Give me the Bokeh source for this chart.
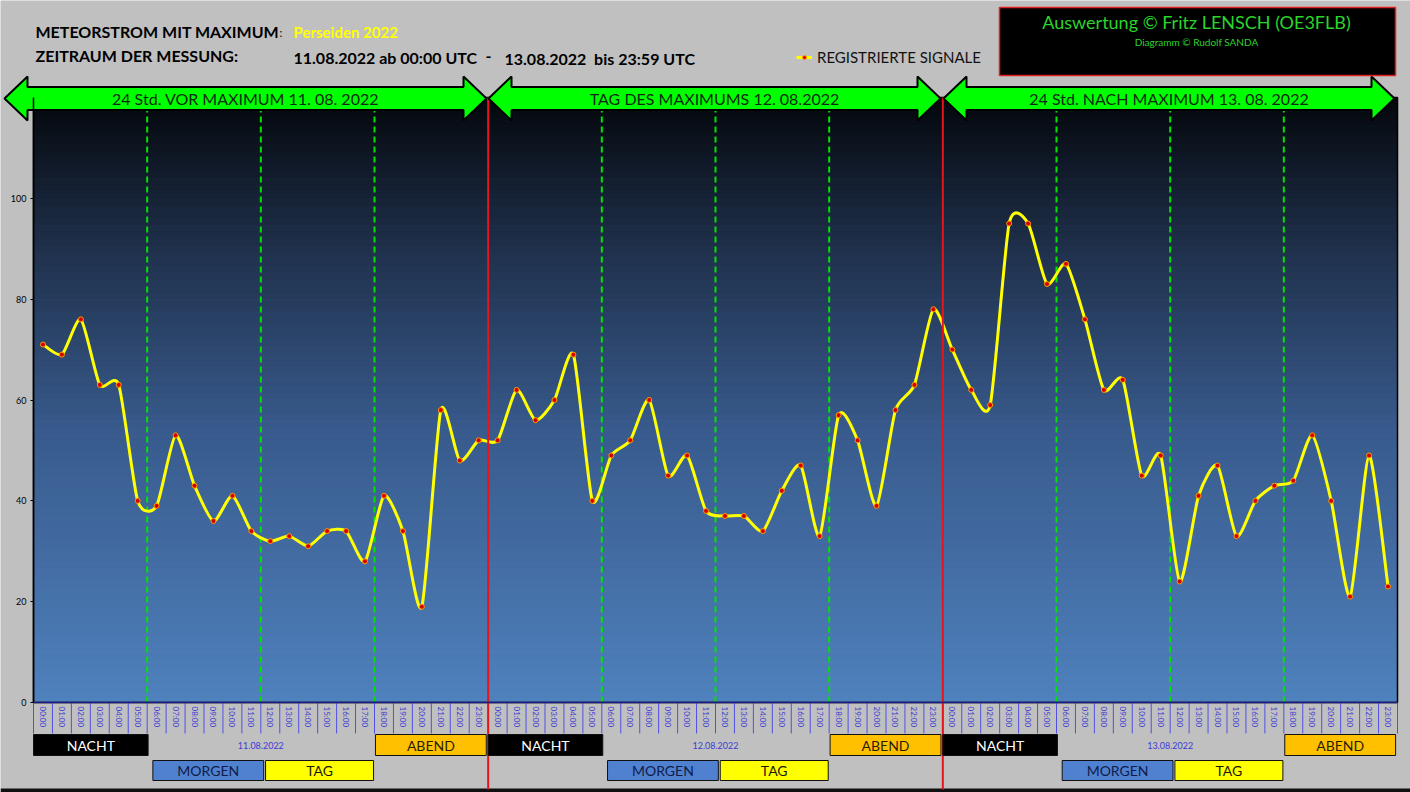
import numpy as np
from bokeh.plotting import figure
from bokeh.models import Range1d, FixedTicker, Legend, LegendItem
from bokeh.core.properties import value
from bokeh.embed import file_html
from bokeh.resources import INLINE

# ---------------- data ----------------
hours = [f"{h:02d}:00" for h in range(24)]
days = ["11.08.2022", "12.08.2022", "13.08.2022"]
signals_day1 = [71, 69, 76, 63, 63, 40, 39, 53, 43, 36, 41, 34, 32, 33, 31, 34, 34, 28, 41, 34, 19, 58, 48, 52]
signals_day2 = [52, 62, 56, 60, 69, 40, 49, 52, 60, 45, 49, 38, 37, 37, 34, 42, 47, 33, 57, 52, 39, 58, 63, 78]
signals_day3 = [70, 62, 59, 95, 95, 83, 87, 76, 62, 64, 45, 49, 24, 41, 47, 33, 40, 43, 44, 53, 40, 21, 49, 23]
y_ticks = [0, 20, 40, 60, 80, 100]
arrow_texts = ["24 Std. VOR MAXIMUM 11. 08. 2022", "TAG DES MAXIMUMS 12. 08.2022",
               "24 Std. NACH MAXIMUM 13. 08. 2022"]
period_names = ["NACHT", "MORGEN", "TAG", "ABEND"]
period_start = [-0.5, 5.8, 11.75, 17.55]
period_end = [5.55, 11.65, 17.45, 23.4]
period_row = [0, 1, 1, 0]
period_fill = ["#000000", "#4f81d0", "#ffff00", "#ffc000"]
period_text = ["#ffffff", "#101c48", "#1a1a00", "#2a1e00"]

signals = signals_day1 + signals_day2 + signals_day3
n = len(signals)
xs = list(range(n))

FONT = "Lato"
W, H = 1410, 792
# plot area inside the canvas (px): left, right, top, bottom
AL, AR, AT, AB = 33, 1397, 97, 702
YMAX = 120
kx = (AR - AL) / n          # px per hour
ky = (AB - AT) / YMAX       # px per signal unit
x_start = -0.5 - AL / kx
x_end = n - 0.5 + (W - AR) / kx
y_start = -(H - AB) / ky
y_end = YMAX + AT / ky

p = figure(width=W, height=H, min_border=0, x_range=Range1d(x_start, x_end),
           y_range=Range1d(y_start, y_end), output_backend="svg", toolbar_location=None)
p.background_fill_color = "#c0c0c0"
p.border_fill_color = "#c0c0c0"
p.outline_line_color = None
p.xgrid.visible = False
p.ygrid.visible = False

# helpers: picture pixel -> data coordinates (for decorations only)
def px2x(X):
    return (X - AL) / kx - 0.5

def px2y(Y):
    return (AB - Y) / ky

# bottom dark frame strip
p.quad(left=x_start, right=x_end, top=px2y(788), bottom=y_start, fill_color="#101010",
       line_alpha=0)

# --------- gradient background of the plot area ---------
stops = [(0.0, (4, 7, 12)), (0.25, (31, 48, 75)), (0.55, (56, 90, 140)), (1.0, (79, 129, 189))]
def grad(t):
    for (t0, c0), (t1, c1) in zip(stops[:-1], stops[1:]):
        if t <= t1:
            f = (t - t0) / (t1 - t0)
            return "#%02x%02x%02x" % tuple(int(round(a + (b - a) * f)) for a, b in zip(c0, c1))
    return "#%02x%02x%02x" % stops[-1][1]

NS = 90
edges = np.linspace(YMAX, 0, NS + 1)
gcols = [grad((i + 0.5) / NS) for i in range(NS)]
p.quad(left=-0.5, right=n - 0.5, top=edges[:-1], bottom=edges[1:],
       fill_color=gcols, line_color=gcols, line_width=1)

# green dashed separators of day periods
sep = [d * 24 + h for d in range(3) for h in (5.5, 11.5, 17.5)]
p.segment(x0=sep, y0=0, x1=sep, y1=YMAX, line_color="#00e400", line_width=2, line_dash="6 4")

# border of plot area
p.quad(left=-0.5, right=n - 0.5, bottom=0, top=YMAX, fill_alpha=0,
       line_color="black", line_width=1.5)

# category separators below the axis
cat_edges = [i - 0.5 for i in range(n + 1)]
p.segment(x0=cat_edges, y0=0, x1=cat_edges, y1=px2y(733), line_color="#5050e6", line_width=1)

# --------- smoothed curve (Bezier through data points) ---------
TENSION = 1 / 9
pts = list(zip(xs, signals))
x0s, y0s, x1s, y1s, cx0, cy0, cx1, cy1 = [], [], [], [], [], [], [], []
for i in range(n - 1):
    P0 = pts[i - 1] if i > 0 else pts[i]
    P1, P2 = pts[i], pts[i + 1]
    P3 = pts[i + 2] if i + 2 < n else pts[i + 1]
    x0s.append(P1[0]); y0s.append(P1[1]); x1s.append(P2[0]); y1s.append(P2[1])
    cx0.append(P1[0] + (P2[0] - P0[0]) * TENSION); cy0.append(P1[1] + (P2[1] - P0[1]) * TENSION)
    cx1.append(P2[0] - (P3[0] - P1[0]) * TENSION); cy1.append(P2[1] - (P3[1] - P1[1]) * TENSION)
curve = p.bezier(x0=x0s, y0=y0s, x1=x1s, y1=y1s, cx0=cx0, cy0=cy0, cx1=cx1, cy1=cy1,
                 line_color="#ffff00", line_width=3)
dots = p.scatter(xs, signals, marker="circle", size=5, fill_color="#d40000",
                 line_color="#ff9a00", line_width=1)

# --------- axes (drawn at fixed data locations) ---------
xa = p.xaxis[0]
xa.fixed_location = 0
xa.bounds = (-0.5, n - 0.5)
xa.ticker = FixedTicker(ticks=xs, minor_ticks=[])
xa.major_label_overrides = {i: hours[i % 24] for i in xs}
xa.major_label_orientation = "vertical"
xa.major_label_text_font = FONT
xa.major_label_text_font_size = "8px"
xa.major_label_text_color = "#3c3cd6"
xa.major_label_standoff = 4
xa.major_tick_out = 0
xa.major_tick_in = 0
xa.major_tick_line_color = None
xa.minor_tick_out = 0
xa.minor_tick_in = 0
xa.minor_tick_line_color = None
xa.axis_line_color = "#1c1c80"
xa.axis_line_width = 1.5

ya = p.yaxis[0]
ya.fixed_location = -0.5
ya.bounds = (0, YMAX)
ya.ticker = FixedTicker(ticks=y_ticks, minor_ticks=[])
ya.major_label_text_font = FONT
ya.major_label_text_font_size = "9px"
ya.major_label_text_color = "black"
ya.major_tick_out = 3
ya.major_tick_in = 0
ya.major_label_standoff = 4
ya.minor_tick_out = 0
ya.minor_tick_in = 0
ya.minor_tick_line_color = None
ya.axis_line_color = "black"
ya.axis_line_width = 1.5

# --------- red day separators ---------
p.segment(x0=[23.5, 47.5], y0=YMAX, x1=[23.5, 47.5], y1=px2y(789),
          line_color="#e8141c", line_width=2)

# --------- green double arrows ---------
arrow_px = [(4, 486), (488, 940), (943, 1394)]
yc, hh, sh, hl = 98, 22, 11.5, 23
for (L, R), txt in zip(arrow_px, arrow_texts):
    X = [L, L + hl, L + hl, R - hl, R - hl, R, R - hl, R - hl, L + hl, L + hl]
    Y = [yc, yc - hh, yc - sh, yc - sh, yc - hh, yc, yc + hh, yc + sh, yc + sh, yc + hh]
    p.patch([px2x(v) for v in X], [px2y(v) for v in Y], fill_color="#00ff00",
            line_color="black", line_width=2)
    p.text(x=[px2x((L + R) / 2)], y=[px2y(yc)], text=[txt], text_align="center",
           text_baseline="middle", text_font=value(FONT), text_font_size="16px",
           text_color="#0e2a0e")

# --------- header ---------
def lab(X, Y, t, size="16px", color="black", style="bold", align="left"):
    p.text(x=[px2x(X)], y=[px2y(Y)], text=[t], text_align=align, text_baseline="middle",
           text_font=value(FONT), text_font_size=size, text_color=color,
           text_font_style=style)

lab(35, 31, "METEORSTROM MIT MAXIMUM")
lab(279, 32, ":", size="11px", style="normal")
lab(293, 31, "Perseiden 2022", size="15px", color="#ffff00")
lab(35, 55, "ZEITRAUM DER MESSUNG:")
lab(293, 57, "11.08.2022 ab 00:00 UTC")
lab(485, 56, "-")
lab(504, 58, "13.08.2022\u00a0 bis 23:59 UTC")

p.quad(left=px2x(999), right=px2x(1395), top=px2y(7), bottom=px2y(75),
       fill_color="black", line_color="#e02020", line_width=1.5)
lab(1196, 21, "Auswertung \u00a9 Fritz LENSCH (OE3FLB)", size="18px", color="#2bd42b",
    style="normal", align="center")
lab(1196, 41, "Diagramm \u00a9 Rudolf SANDA", size="10px", color="#2bd42b",
    style="normal", align="center")

legend = Legend(items=[LegendItem(label="REGISTRIERTE SIGNALE", renderers=[curve, dots])],
                location=(796, H - 66),
                label_text_font=FONT, label_text_font_size="15px", label_text_color="#111111",
                glyph_width=16, glyph_height=10, label_standoff=5, padding=0, margin=0,
                spacing=0, background_fill_alpha=0, border_line_alpha=0)
p.add_layout(legend)

# --------- period boxes below the axis ---------
rows = [(734, 755), (760, 780)]
bl, br, bt, bb, bf, tx, ty, tt, tc = [], [], [], [], [], [], [], [], []
for d in range(3):
    for name, s, e, r, fc, c in zip(period_names, period_start, period_end, period_row,
                                    period_fill, period_text):
        top, bot = rows[r]
        bl.append(s + 24 * d); br.append(e + 24 * d)
        bt.append(px2y(top)); bb.append(px2y(bot)); bf.append(fc)
        tx.append((s + e) / 2 + 24 * d); ty.append(px2y((top + bot) / 2))
        tt.append(name); tc.append(c)
p.quad(left=bl, right=br, top=bt, bottom=bb, fill_color=bf, line_color="#111111", line_width=1)
p.text(x=tx, y=ty, text=tt, text_color=tc, text_align="center", text_baseline="middle",
       text_font=value(FONT), text_font_size="14px")
p.text(x=[11.5 + 24 * d for d in range(3)], y=px2y(745), text=days, text_align="center",
       text_baseline="middle", text_font=value(FONT), text_font_size="9px",
       text_color="#3c3cd6")

open("out.html", "w").write(file_html(p, INLINE))
